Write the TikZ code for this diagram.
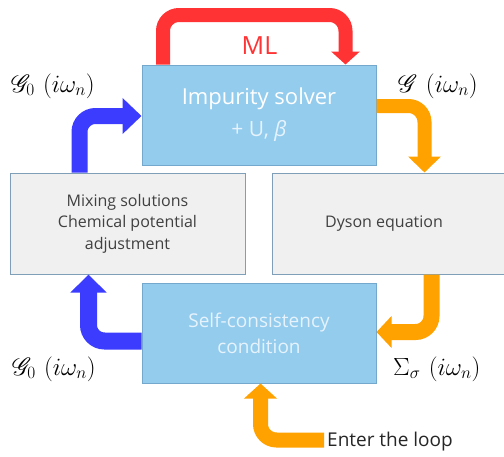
\documentclass[tikz,border=0pt]{standalone}
\usepackage{fontspec}
\usepackage{mathrsfs}
\setmainfont{Open Sans}
\usetikzlibrary{arrows.meta,calc}
\definecolor{boxblue}{HTML}{94CCEE}
\definecolor{boxblueedge}{HTML}{74A8CC}
\definecolor{boxgray}{HTML}{F0F0F0}
\definecolor{boxgrayedge}{HTML}{7F9FB8}
\definecolor{arrblue}{HTML}{3C3CFF}
\definecolor{arrred}{HTML}{FF3333}
\definecolor{arrorange}{HTML}{FFA200}
\definecolor{txtgray}{HTML}{404040}
\definecolor{paleblue}{HTML}{E6F3FC}
\tikzset{
  bluebox/.style={draw=boxblueedge, line width=1pt, fill=boxblue, minimum width=234pt, minimum height=100pt, inner sep=0pt, align=center},
  graybox/.style={draw=boxgrayedge, line width=1pt, fill=boxgray, minimum height=101pt, inner sep=0pt, align=center, text=txtgray, font=\fontsize{16}{21.5}\selectfont},
  mathlabel/.style={font=\fontsize{25}{28}\selectfont, inner sep=0pt},
  bigarrow/.style={rounded corners=16pt, line join=miter},
}
\begin{document}
\begin{tikzpicture}[x=1pt,y=-1pt]
\useasboundingbox (0,0) rectangle (504,456);
\clip (0,0) rectangle (504,456);
% boxes
\node[bluebox, text=white, font=\fontsize{22}{32}\selectfont] (imp) at (259,115) {Impurity solver\\{\color{paleblue}\fontsize{21}{22}\selectfont + U, \textit{β}}};
\node[bluebox, text=paleblue, font=\fontsize{19}{26}\selectfont] (self) at (259,333) {Self-consistency\\condition};
\node[graybox, minimum width=235pt] (mix) at (127.5,223.5) {Mixing solutions\\Chemical potential\\adjustment};
\node[graybox, minimum width=240pt] (dyson) at (392,223.5) {\hspace{-8pt}Dyson equation\hspace{8pt}};
% labels
\node[mathlabel, anchor=west] (g0top) at (11,86) {$\mathscr{G}_0\,\left(i\omega_n\right)$};
\node[mathlabel, anchor=west] (gtop) at (398,86) {$\mathscr{G}\,\left(i\omega_n\right)$};
\node[mathlabel, anchor=west] (g0bot) at (12,369) {$\mathscr{G}_0\,\left(i\omega_n\right)$};
\node[mathlabel, anchor=west] (sig) at (393,369) {$\Sigma_\sigma\,\left(i\omega_n\right)$};
\node[text=arrred, font=\fontsize{25}{28}\selectfont, inner sep=0pt] (ml) at (259.5,46) {ML};
\node[text=black!85, font=\fontsize{19}{22}\selectfont, inner sep=0pt, anchor=west] (enter) at (327,442) {Enter the loop};
% arrows
\draw[bigarrow, draw=arrred, line width=14pt, -{Triangle[length=13pt,width=28pt]}]
  ($(imp.north west)+(21.5,0)$) -- ++(0,-49.5) -| ($(imp.north west)+(204,0)$);
\draw[bigarrow, draw=arrorange, line width=14pt, -{Triangle[length=16pt,width=32pt]}]
  ($(imp.east)+(0,-9)$) -| ($(dyson.north west)+(153,0)$);
\draw[bigarrow, draw=arrorange, line width=16pt, -{Triangle[length=15pt,width=31pt]}]
  ($(dyson.south west)+(160,0)$) |- ($(self.east)+(0,-1)$);
\draw[bigarrow, draw=arrblue, line width=17pt, -{Triangle[length=18pt,width=35pt]}]
  ($(self.west)+(0,8)$) -| ($(mix.south west)+(79,0)$);
\draw[bigarrow, draw=arrblue, line width=16pt, -{Triangle[length=19pt,width=35pt]}]
  ($(mix.north west)+(70,0)$) |- ($(imp.west)+(0,1)$);
\draw[bigarrow, draw=arrorange, line width=15pt, -{Triangle[length=15pt,width=32pt]}]
  ($(enter.west)+(-3,-2)$) -| ($(self.south west)+(119,0)$);
\end{tikzpicture}
\end{document}
